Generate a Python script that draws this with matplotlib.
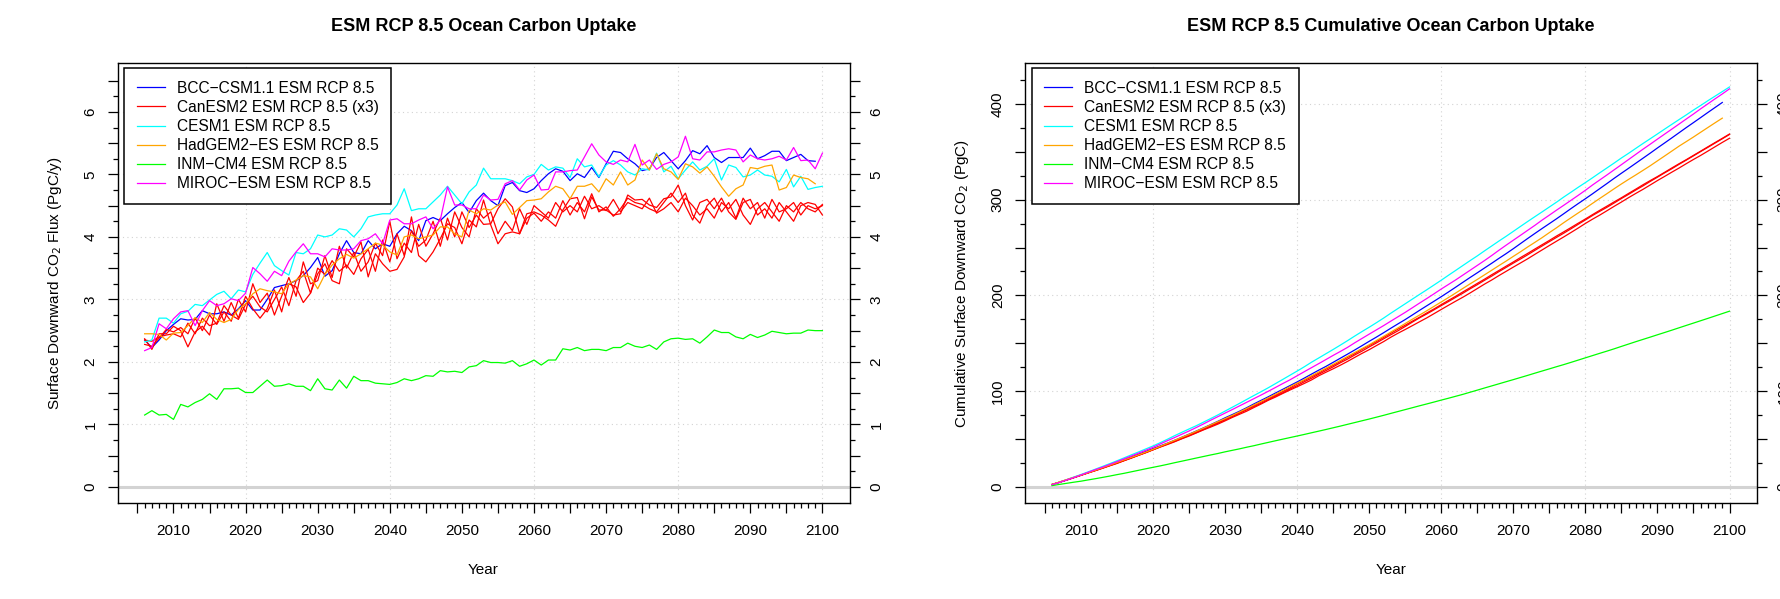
import numpy as np
import matplotlib
matplotlib.use("Agg")
import matplotlib.pyplot as plt
from matplotlib.ticker import FixedLocator, FuncFormatter

plt.rcParams['font.family'] = ['Liberation Sans', 'DejaVu Sans']

start_year = 2006

# annual ocean carbon uptake, PgC/y
bcc = [2.35, 2.23, 2.35, 2.50, 2.60, 2.69, 2.67, 2.68, 2.82, 2.77, 2.77, 2.80, 2.75, 2.85, 2.98,
       2.83, 2.83, 3.00, 3.19, 3.22, 3.25, 3.30, 3.38, 3.51, 3.67, 3.37, 3.46, 3.73, 3.94, 3.75,
       3.73, 3.94, 3.81, 3.89, 3.85, 4.05, 4.17, 4.10, 3.94, 4.26, 4.31, 4.26, 4.37, 4.47, 4.55,
       4.39, 4.58, 4.70, 4.58, 4.50, 4.82, 4.87, 4.74, 4.71, 4.77, 4.90, 5.01, 5.09, 5.05, 4.90,
       5.01, 4.95, 5.11, 4.95, 5.17, 5.37, 5.35, 5.25, 5.17, 5.06, 5.09, 5.27, 5.35, 5.22, 5.09,
       5.22, 5.38, 5.33, 5.46, 5.27, 5.19, 5.27, 5.27, 5.27, 5.42, 5.25, 5.30, 5.37, 5.37, 5.22,
       5.27, 5.32, 5.22, 5.21]

canesm2_r1 = [2.37, 2.20, 2.45, 2.45, 2.57, 2.50, 2.24, 2.48, 2.57, 2.43, 2.93, 2.65, 2.95, 2.70, 3.05,
              2.85, 2.70, 2.85, 3.15, 2.80, 3.25, 3.20, 2.95, 3.10, 3.41, 3.57, 3.30, 3.25, 3.81, 3.68,
              3.92, 3.36, 3.73, 3.57, 3.45, 3.48, 3.68, 4.32, 3.70, 3.60, 3.76, 3.97, 4.21, 4.15, 3.89,
              4.27, 4.16, 4.59, 4.19, 3.89, 4.05, 4.08, 4.05, 4.37, 4.40, 4.35, 4.27, 4.17, 4.43, 4.61,
              4.63, 4.29, 4.64, 4.43, 4.43, 4.35, 4.37, 4.67, 4.59, 4.60, 4.51, 4.47, 4.61, 4.64, 4.83,
              4.50, 4.27, 4.55, 4.60, 4.45, 4.62, 4.40, 4.28, 4.55, 4.60, 4.35, 4.45, 4.30, 4.55, 4.40,
              4.25, 4.50, 4.55, 4.52, 4.35]
canesm2_r2 = [2.35, 2.33, 2.40, 2.43, 2.45, 2.40, 2.62, 2.45, 2.70, 2.58, 2.62, 2.90, 2.75, 2.68, 2.92,
              3.05, 2.88, 2.80, 3.00, 3.20, 2.90, 3.30, 3.45, 3.10, 3.50, 3.40, 3.62, 3.45, 3.55, 3.40,
              3.65, 3.80, 3.45, 3.95, 3.60, 4.05, 3.70, 4.10, 3.85, 3.95, 4.25, 3.85, 4.30, 4.00, 4.40,
              4.15, 4.35, 4.20, 4.21, 4.45, 4.61, 4.48, 4.05, 4.30, 4.38, 4.25, 4.40, 4.30, 4.58, 4.35,
              4.55, 4.40, 4.69, 4.40, 4.48, 4.33, 4.45, 4.62, 4.55, 4.52, 4.45, 4.40, 4.55, 4.70, 4.55,
              4.70, 4.35, 4.22, 4.50, 4.62, 4.40, 4.55, 4.30, 4.62, 4.45, 4.55, 4.30, 4.60, 4.40, 4.45,
              4.55, 4.35, 4.50, 4.45, 4.50]
canesm2_r3 = [2.28, 2.25, 2.38, 2.52, 2.48, 2.55, 2.45, 2.70, 2.50, 2.75, 2.60, 2.80, 2.65, 3.00, 2.80,
              3.25, 2.95, 3.10, 2.75, 3.05, 3.35, 3.05, 3.60, 3.25, 3.30, 3.70, 3.35, 3.85, 3.50, 3.75,
              3.45, 3.60, 3.90, 3.70, 4.25, 3.65, 3.90, 3.75, 4.20, 3.85, 4.05, 4.30, 3.95, 4.40, 4.15,
              4.00, 4.45, 4.30, 4.40, 4.05, 4.25, 4.10, 4.45, 4.20, 4.50, 4.40, 4.30, 4.55, 4.40, 4.50,
              4.40, 4.65, 4.45, 4.50, 4.42, 4.60, 4.40, 4.55, 4.50, 4.45, 4.62, 4.38, 4.45, 4.55, 4.40,
              4.62, 4.50, 4.35, 4.45, 4.30, 4.55, 4.45, 4.60, 4.35, 4.20, 4.45, 4.55, 4.40, 4.25, 4.50,
              4.40, 4.55, 4.45, 4.40, 4.52]

cesm1 = [2.32, 2.35, 2.70, 2.70, 2.62, 2.77, 2.81, 2.92, 2.90, 2.99, 3.08, 3.13, 3.01, 3.15, 3.12,
         3.40, 3.58, 3.75, 3.54, 3.46, 3.39, 3.75, 3.73, 3.81, 4.03, 4.00, 4.03, 4.13, 4.11, 4.00,
         4.13, 4.32, 4.35, 4.37, 4.37, 4.51, 4.77, 4.42, 4.45, 4.45, 4.56, 4.67, 4.81, 4.67, 4.53,
         4.72, 4.83, 5.10, 4.93, 4.93, 4.93, 4.90, 4.85, 4.96, 5.00, 5.16, 5.07, 5.12, 5.10, 4.95,
         5.25, 5.12, 5.15, 4.96, 5.15, 5.22, 5.15, 5.04, 4.99, 5.09, 5.07, 5.34, 5.04, 5.13, 4.93,
         5.07, 5.20, 5.07, 5.13, 5.25, 4.91, 5.15, 5.11, 4.96, 4.99, 5.07, 4.99, 4.97, 4.88, 5.08,
         4.80, 4.97, 4.76, 4.79, 4.81]

hadgem2 = [2.45, 2.45, 2.44, 2.35, 2.46, 2.47, 2.58, 2.71, 2.63, 2.79, 2.68, 2.63, 2.68, 2.84, 2.93,
           3.09, 3.17, 3.14, 3.12, 3.09, 3.25, 3.31, 3.38, 3.36, 3.17, 3.40, 3.55, 3.65, 3.72, 3.66,
           3.73, 3.81, 3.90, 3.87, 3.76, 3.71, 4.00, 4.03, 3.97, 4.00, 4.03, 4.16, 4.16, 4.05, 4.00,
           4.43, 4.37, 4.45, 4.43, 4.51, 4.56, 4.36, 4.47, 4.58, 4.59, 4.61, 4.72, 4.81, 4.77, 4.61,
           4.81, 4.81, 4.85, 4.72, 4.93, 4.83, 5.04, 4.83, 4.91, 5.23, 5.07, 5.33, 5.09, 5.04, 4.92,
           5.17, 5.12, 5.02, 5.12, 4.97, 4.80, 4.65, 4.77, 4.83, 5.11, 5.09, 5.13, 5.15, 4.75, 4.79,
           4.99, 4.95, 4.93, 4.85]

inmcm4 = [1.15, 1.22, 1.15, 1.16, 1.08, 1.32, 1.28, 1.35, 1.40, 1.49, 1.40, 1.57, 1.57, 1.58, 1.51,
          1.51, 1.61, 1.71, 1.61, 1.62, 1.65, 1.61, 1.61, 1.54, 1.73, 1.57, 1.55, 1.71, 1.58, 1.77,
          1.70, 1.70, 1.66, 1.65, 1.64, 1.67, 1.73, 1.70, 1.73, 1.78, 1.77, 1.86, 1.84, 1.85, 1.83,
          1.92, 1.94, 2.02, 1.99, 1.99, 1.98, 2.02, 1.93, 1.97, 2.03, 1.95, 2.03, 2.03, 2.21, 2.19,
          2.23, 2.18, 2.20, 2.20, 2.18, 2.23, 2.23, 2.30, 2.25, 2.23, 2.27, 2.20, 2.32, 2.37, 2.38,
          2.36, 2.37, 2.30, 2.40, 2.51, 2.47, 2.47, 2.40, 2.37, 2.44, 2.39, 2.43, 2.49, 2.47, 2.45,
          2.46, 2.46, 2.51, 2.50, 2.50]

miroc = [2.18, 2.23, 2.61, 2.53, 2.69, 2.80, 2.82, 2.58, 2.82, 2.98, 2.90, 2.93, 3.01, 2.98, 3.10,
         3.51, 3.41, 3.29, 3.45, 3.38, 3.61, 3.76, 3.89, 3.73, 3.73, 3.68, 3.81, 3.79, 3.79, 3.81,
         3.94, 3.97, 4.05, 3.89, 4.27, 4.29, 4.21, 4.21, 4.27, 4.32, 4.13, 4.27, 4.80, 4.51, 4.51,
         4.45, 4.45, 4.67, 4.59, 4.60, 4.85, 4.90, 4.75, 4.91, 4.99, 4.75, 4.76, 5.04, 5.04, 5.06,
         5.07, 5.28, 5.49, 5.31, 5.20, 5.16, 5.23, 5.20, 5.48, 5.15, 5.23, 5.08, 5.16, 5.20, 5.28,
         5.61, 5.25, 5.23, 5.36, 5.36, 5.39, 5.41, 5.39, 5.20, 5.31, 5.25, 5.23, 5.25, 5.29, 5.23,
         5.43, 5.22, 5.23, 5.09, 5.34]

series = [
    (bcc, '#0000FF', 'BCC\u2212CSM1.1 ESM RCP 8.5'),
    (canesm2_r1, '#FF0000', 'CanESM2 ESM RCP 8.5 (x3)'),
    (canesm2_r2, '#FF0000', None),
    (canesm2_r3, '#FF0000', None),
    (cesm1, '#00FFFF', 'CESM1 ESM RCP 8.5'),
    (hadgem2, '#FFA500', 'HadGEM2\u2212ES ESM RCP 8.5'),
    (inmcm4, '#00FF00', 'INM\u2212CM4 ESM RCP 8.5'),
    (miroc, '#FF00FF', 'MIROC\u2212ESM ESM RCP 8.5'),
]

fig = plt.figure(figsize=(17.81, 5.99), dpi=100)
ax1 = fig.add_axes([0.066, 0.160, 0.411, 0.7346])
ax2 = fig.add_axes([0.5755, 0.160, 0.4108, 0.7346])


def style_axes(ax, ymajor, yminor, ylab_step, ylim, title, ylabel, ylab_x):
    ax.set_xlim(2002.24, 2103.76)
    ax.set_ylim(*ylim)
    ax.axhline(0, color='#d3d3d3', lw=2.2, zorder=1)
    for g in ymajor:
        if g > 0 and abs(g / ylab_step - round(g / ylab_step)) < 1e-9:
            ax.axhline(g, color='#d3d3d3', lw=0.8, ls=(0, (1, 3)), zorder=0)
    for g in range(2020, 2101, 20):
        ax.axvline(g, color='#d3d3d3', lw=0.8, ls=(0, (1, 3)), zorder=0)

    ax.xaxis.set_major_locator(FixedLocator(list(range(2005, 2101, 5))))
    ax.xaxis.set_minor_locator(FixedLocator(list(range(2005, 2101))))
    ax.xaxis.set_major_formatter(FuncFormatter(lambda v, p: f"{int(v)}" if int(v) % 10 == 0 else ""))
    ax.yaxis.set_major_locator(FixedLocator(ymajor))
    ax.yaxis.set_minor_locator(FixedLocator(yminor))
    ax.yaxis.set_major_formatter(FuncFormatter(
        lambda v, p: f"{v:g}" if abs(v / ylab_step - round(v / ylab_step)) < 1e-9 else ""))

    ax.tick_params(axis='x', which='major', direction='out', length=7, width=0.9,
                   labelsize=11, pad=8, top=False)
    ax.tick_params(axis='x', which='minor', direction='out', length=3.6, width=0.9, top=False)
    ax.tick_params(axis='y', which='major', direction='out', length=7, width=0.9,
                   labelsize=11, pad=7.5, left=True, right=True, labelleft=True,
                   labelright=True, labelrotation=90)
    ax.tick_params(axis='y', which='minor', direction='out', length=3.6, width=0.9,
                   left=True, right=True)
    for lab in ax.get_yticklabels():
        lab.set_va('center')
    for sp in ax.spines.values():
        sp.set_linewidth(1.0)

    ax.text(0.5, 1.084, title, transform=ax.transAxes, ha='center', va='center',
            fontsize=13, fontweight='bold')
    ax.set_xlabel('Year', fontsize=11, va='center')
    ax.xaxis.set_label_coords(0.5, -0.152)
    ax.set_ylabel(ylabel, fontsize=11, va='center')
    ax.yaxis.set_label_coords(ylab_x, 0.5)


for vals, color, label in series:
    years = np.arange(start_year, start_year + len(vals))
    ax1.plot(years, vals, color=color, lw=0.9, label=label, zorder=3)
    # cumulative uptake since 2006
    ax2.plot(years, np.cumsum(vals), color=color, lw=0.9, label=label, zorder=3)

style_axes(ax1, list(np.arange(0, 6.51, 0.5)), list(np.arange(0, 6.51, 0.25)), 1,
           (-0.26, 6.78), 'ESM RCP 8.5 Ocean Carbon Uptake',
           'Surface Downward CO$_2$ Flux (PgC/y)', -0.086)
style_axes(ax2, list(range(0, 426, 50)), list(range(0, 426, 25)), 100,
           (-17.2, 442.7), 'ESM RCP 8.5 Cumulative Ocean Carbon Uptake',
           'Cumulative Surface Downward CO$_2$ (PgC)', -0.086)

for ax in (ax1, ax2):
    leg = ax.legend(loc='upper left', bbox_to_anchor=(0.009, 0.988), borderaxespad=0,
                    fontsize=11.2, frameon=True, fancybox=False, framealpha=1,
                    edgecolor='black', handlelength=1.8, handletextpad=0.8,
                    labelspacing=0.26, borderpad=0.8)
    leg.get_frame().set_linewidth(1.1)

fig.savefig('out.png', dpi=100)
